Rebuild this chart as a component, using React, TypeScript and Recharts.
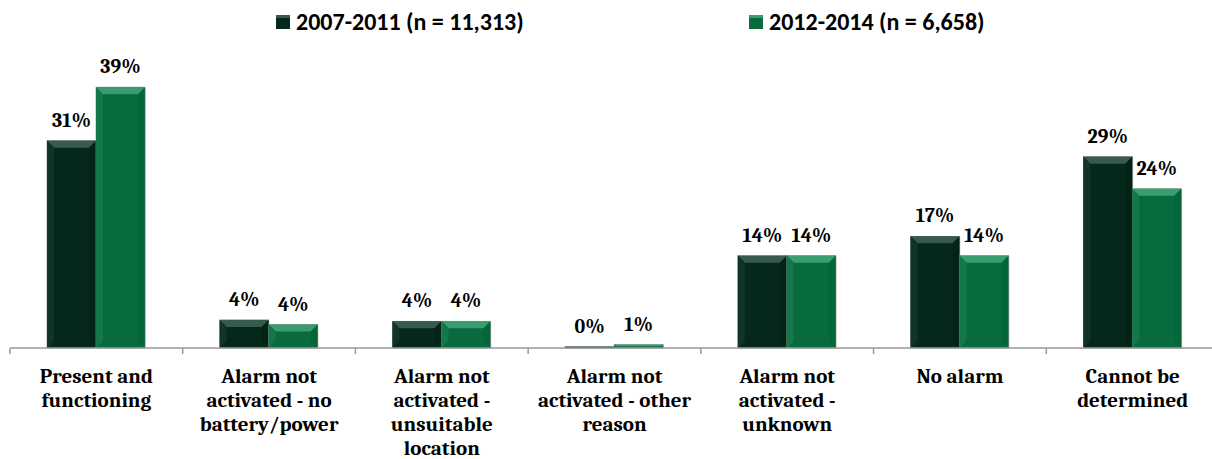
import { Bar, BarChart, LabelList, XAxis, YAxis } from "recharts";

const categories = [
  "Present and\nfunctioning",
  "Alarm not\nactivated - no\nbattery/power",
  "Alarm not\nactivated -\nunsuitable\nlocation",
  "Alarm not\nactivated - other\nreason",
  "Alarm not\nactivated -\nunknown",
  "No alarm",
  "Cannot be\ndetermined",
];
const period1 = [31, 4.2, 4.0, 0.2, 13.8, 16.7, 28.6];
const period2 = [39, 3.5, 4.0, 0.5, 13.8, 13.8, 23.8];
const seriesNames = ["2007-2011 (n = 11,313)", "2012-2014 (n = 6,658)"];
const labelValues1 = [31, 4, 4, 0, 14, 17, 29];
const labelValues2 = [39, 4, 4, 1, 14, 14, 24];

const DARK = "#05281a";
const GREEN = "#076b3d";
const SERIF = "Cambria, 'DejaVu Serif', serif";

const chartData = categories.map((name, i) => ({
  name,
  p1: period1[i],
  p2: period2[i],
  l1: labelValues1[i],
  l2: labelValues2[i],
}));

const CHART_W = 1212;
const CHART_H = 459;
const MARGIN = { top: 47, right: -7, left: 10, bottom: 0 };
const BAND = (CHART_W - MARGIN.left - MARGIN.right) / categories.length;

function lighten(hex: string, amt: number) {
  const n = parseInt(hex.slice(1), 16);
  const r = Math.max(0, Math.min(255, ((n >> 16) & 255) + amt));
  const g = Math.max(0, Math.min(255, ((n >> 8) & 255) + amt));
  const b = Math.max(0, Math.min(255, (n & 255) + amt));
  return `rgb(${r},${g},${b})`;
}

function BevelBar(props: any) {
  const { x, y, width, height, fill } = props;
  if (!height || height <= 0) return null;
  const b = Math.min(7, height / 2, width / 2);
  return (
    <g>
      <rect x={x + 1} y={y + 1} width={width} height={height} fill="#bbb" opacity={0.5} />
      <rect x={x} y={y} width={width} height={height} fill={fill} stroke="#7a8a80" strokeWidth={0.6} />
      <polygon
        points={`${x},${y} ${x + width},${y} ${x + width - b},${y + b} ${x + b},${y + b}`}
        fill={lighten(fill, 50)}
      />
      <polygon
        points={`${x},${y} ${x + b},${y + b} ${x + b},${y + height - b} ${x},${y + height}`}
        fill={lighten(fill, 12)}
      />
      <polygon
        points={`${x + width},${y} ${x + width - b},${y + b} ${x + width - b},${y + height - b} ${x + width},${y + height}`}
        fill={lighten(fill, -8)}
        opacity={0.6}
      />
    </g>
  );
}

function CategoryTick(props: any) {
  const { x, y, payload, index } = props;
  const lines = String(payload.value).split("\n");
  const left = x - BAND / 2;
  const right = x + BAND / 2;
  return (
    <g>
      <line x1={left} y1={y - 8} x2={left} y2={y - 2} stroke="#999" strokeWidth={1.5} />
      {index === categories.length - 1 && (
        <line x1={right} y1={y - 8} x2={right} y2={y - 2} stroke="#999" strokeWidth={1.5} />
      )}
      <text
        x={x}
        y={y + 27}
        textAnchor="middle"
        fontFamily={SERIF}
        fontWeight="bold"
        fontSize={21}
        fill="#000"
      >
        {lines.map((line, i) => (
          <tspan key={i} x={x} dy={i === 0 ? 0 : 24}>
            {line}
          </tspan>
        ))}
      </text>
    </g>
  );
}

function LegendItem({ color, label, left }: { color: string; label: string; left: number }) {
  return (
    <div
      style={{
        position: "absolute",
        left,
        top: 7,
        display: "flex",
        alignItems: "center",
        fontFamily: "Carlito, 'Open Sans', 'Liberation Sans', sans-serif",
        fontWeight: "bold",
        fontSize: 24,
        lineHeight: "30px",
        color: "#000",
        whiteSpace: "nowrap",
      }}
    >
      <span
        style={{
          display: "inline-block",
          width: 14,
          height: 14,
          background: color,
          boxShadow: `inset 0 3px 0 ${lighten(color, 50)}`,
          marginRight: 6,
        }}
      />
      {label}
    </div>
  );
}

const labelStyle = { fontFamily: SERIF, fontWeight: "bold", fontSize: 20, fill: "#000" };

export default function App() {
  return (
    <div style={{ position: "absolute", left: 0, top: 0, width: CHART_W, height: CHART_H, background: "#fff", overflow: "hidden" }}>
      <LegendItem color={DARK} label={seriesNames[0]} left={276} />
      <LegendItem color={GREEN} label={seriesNames[1]} left={749} />
      <BarChart width={CHART_W} height={CHART_H} data={chartData} margin={MARGIN} barGap={0} barSize={49}>
        <XAxis
          dataKey="name"
          interval={0}
          height={111}
          axisLine={{ stroke: "#999", strokeWidth: 1.5 }}
          tickLine={false}
          tick={<CategoryTick />}
        />
        <YAxis hide domain={[0, 45]} />
        <Bar dataKey="p1" fill={DARK} shape={<BevelBar />} isAnimationActive={false}>
          <LabelList dataKey="l1" position="top" offset={14} formatter={(v: any) => `${v}%`} style={labelStyle} />
        </Bar>
        <Bar dataKey="p2" fill={GREEN} shape={<BevelBar />} isAnimationActive={false}>
          <LabelList dataKey="l2" position="top" offset={14} formatter={(v: any) => `${v}%`} style={labelStyle} />
        </Bar>
      </BarChart>
    </div>
  );
}
